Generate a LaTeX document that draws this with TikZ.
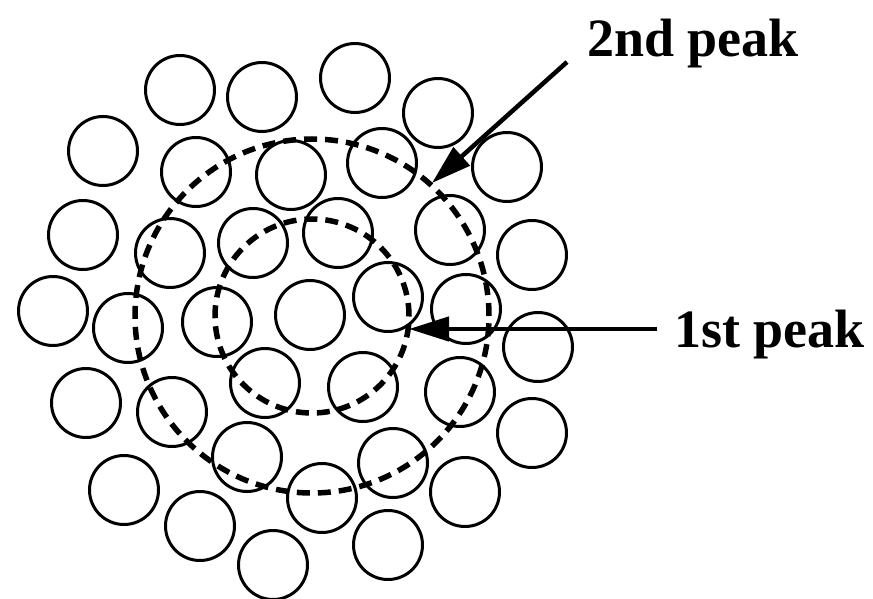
\documentclass[tikz,border=0pt]{standalone}
\usepackage{fontspec}
\setmainfont{Liberation Serif}
\usetikzlibrary{arrows.meta}
\begin{document}
\begin{tikzpicture}[x=1pt,y=-1pt,
  atom/.style={circle,draw=black,line width=3pt,minimum size=69pt,inner sep=0pt},
  shell/.style={draw=black,line width=5.5pt,dash pattern=on 13pt off 8pt},
  pointer/.style={draw=black,line width=4.5pt,-{Triangle[length=40pt,width=24pt]}},
  lbl/.style={font=\fontsize{54}{60}\selectfont\bfseries,anchor=base west,inner sep=0pt}]
\useasboundingbox (0,0) rectangle (873,599);
% atoms
\foreach \n/\x/\y in {
 a1/180/90, a2/262/97, a3/355/78, a4/438/113,
 b1/103/151, b2/196/172, b3/291/175, b4/382/163, b5/507/167,
 c1/83/235, c2/170/253, c3/253/243, c4/338/233, c5/450/230, c6/532/255,
 d1/53/311, d2/128/328, d3/217/322, d4/310/315, d5/388/297, d6/466/309, d7/538/347,
 e1/86/403, e2/172/412, e3/265/383, e4/363/387, e5/460/392, e6/532/433,
 f1/124/490, f2/247/457, f3/322/498, f4/393/463, f5/465/492,
 g1/200/526, g2/273/565, g3/388/545}
 \node[atom] (\n) at (\x,\y) {};
% coordination shells
\coordinate (ctr) at (312,316);
\draw[shell] (ctr) circle[radius=97pt];
\draw[shell] (ctr) circle[radius=177pt];
% labels
\node[lbl] (p2) at (587,57) {2nd peak};
\node[lbl] (p1) at (674,347) {1st peak};
\coordinate (s2) at (567,62);
\coordinate (t2) at (432,183);
\coordinate (s1) at (657,329);
\coordinate (t1) at (409,329);
\draw[pointer] (s2) -- (t2);
\draw[pointer] (s1) -- (t1);
\end{tikzpicture}
\end{document}
